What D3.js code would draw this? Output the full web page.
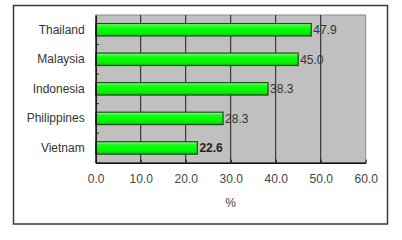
<!DOCTYPE html>
<html lang="en">
<head>
<meta charset="utf-8">
<script src="https://d3js.org/d3.v7.min.js"></script>
<style>
  body { margin: 0; background: #fff; }
  svg { display: block; font-family: Arial, "Liberation Sans", sans-serif; }
</style>
</head>
<body>
<script>
// data
const countries = ["Thailand", "Malaysia", "Indonesia", "Philippines", "Vietnam"];
const shares = [47.9, 45.0, 38.3, 28.3, 22.6];
const xTicks = [0, 10, 20, 30, 40, 50, 60];
const xTitle = "%";

const width = 402, height = 240;
const margin = {left: 95.7, right: 36.3, top: 15, bottom: 77.3};

const svg = d3.select("body").append("svg")
    .attr("width", width)
    .attr("height", height);

// green gradient for the bars, lighter on top
const defs = svg.append("defs");
const grad = defs.append("linearGradient")
    .attr("id", "barGrad")
    .attr("x1", 0).attr("y1", 0).attr("x2", 0).attr("y2", 1);
grad.append("stop").attr("offset", "0%").attr("stop-color", "#9cff9c");
grad.append("stop").attr("offset", "25%").attr("stop-color", "#10ff10");
grad.append("stop").attr("offset", "80%").attr("stop-color", "#00f000");
grad.append("stop").attr("offset", "100%").attr("stop-color", "#00b800");

// outer frame
svg.append("rect")
    .attr("x", 13.5).attr("y", 5.5)
    .attr("width", 374).attr("height", 218.5)
    .attr("fill", "#fff")
    .attr("stroke", "#3a3a3a")
    .attr("stroke-width", 1.5);

const x = d3.scaleLinear()
    .domain([0, 60])
    .range([margin.left, width - margin.right]);

const y = d3.scaleBand()
    .domain(countries)
    .range([margin.top, height - margin.bottom])
    .paddingInner(0.58)
    .paddingOuter(0.29);

const plotTop = margin.top, plotBottom = height - margin.bottom;

// plot background
svg.append("rect")
    .attr("x", x(0)).attr("y", plotTop)
    .attr("width", x(60) - x(0)).attr("height", plotBottom - plotTop)
    .attr("fill", "#c0c0c0")
    .attr("stroke", "#8a8a8a")
    .attr("stroke-width", 1);

// gridlines
svg.append("g")
  .selectAll("line")
  .data(xTicks.slice(1, -1))
  .join("line")
    .attr("x1", d => x(d)).attr("x2", d => x(d))
    .attr("y1", plotTop).attr("y2", plotBottom)
    .attr("stroke", "#1e1e1e")
    .attr("stroke-width", 1);

// bars
svg.append("g")
  .selectAll("rect")
  .data(countries)
  .join("rect")
    .attr("x", x(0))
    .attr("y", d => y(d))
    .attr("width", (d, i) => x(shares[i]) - x(0))
    .attr("height", y.bandwidth())
    .attr("fill", "url(#barGrad)")
    .attr("stroke", "#1f4a1f")
    .attr("stroke-width", 1.2);

// value labels
svg.append("g")
  .selectAll("text")
  .data(countries)
  .join("text")
    .attr("x", (d, i) => x(shares[i]) + 2)
    .attr("y", d => y(d) + y.bandwidth() / 2)
    .attr("dy", "0.35em")
    .attr("font-size", 12)
    .attr("font-weight", (d, i) => i === countries.length - 1 ? "bold" : "normal")
    .attr("fill", (d, i) => i === countries.length - 1 ? "#222" : "#333")
    .text((d, i) => shares[i].toFixed(1));

// x axis
const xAxis = svg.append("g")
    .attr("transform", `translate(0,${plotBottom})`)
    .call(d3.axisBottom(x).tickValues(xTicks).tickSizeInner(-3).tickSizeOuter(0)
      .tickPadding(12).tickFormat(d3.format(".1f")));
xAxis.select(".domain").attr("stroke", "#111").attr("stroke-width", 1.5);
xAxis.selectAll(".tick line").attr("stroke", "#111");
xAxis.selectAll("text").attr("font-size", 12).attr("fill", "#444")
    .attr("font-family", "Arial, 'Liberation Sans', sans-serif");

// y axis with ticks between categories
const yAxis = svg.append("g")
    .attr("transform", `translate(${x(0)},0)`)
    .call(d3.axisLeft(y).tickSize(0).tickPadding(11));
yAxis.select(".domain").attr("stroke", "#111").attr("stroke-width", 1.5);
yAxis.selectAll("text").attr("font-size", 12).attr("fill", "#333")
    .attr("font-family", "Arial, 'Liberation Sans', sans-serif");

svg.append("g")
  .selectAll("line")
  .data(countries.slice(1))
  .join("line")
    .attr("x1", x(0)).attr("x2", x(0) + 3)
    .attr("y1", d => y(d) - y.step() * y.paddingInner() / 2)
    .attr("y2", d => y(d) - y.step() * y.paddingInner() / 2)
    .attr("stroke", "#111");

// axis title
svg.append("text")
    .attr("x", (x(0) + x(60)) / 2)
    .attr("y", 207)
    .attr("text-anchor", "middle")
    .attr("font-size", 12)
    .attr("fill", "#444")
    .text(xTitle);
</script>
</body>
</html>
